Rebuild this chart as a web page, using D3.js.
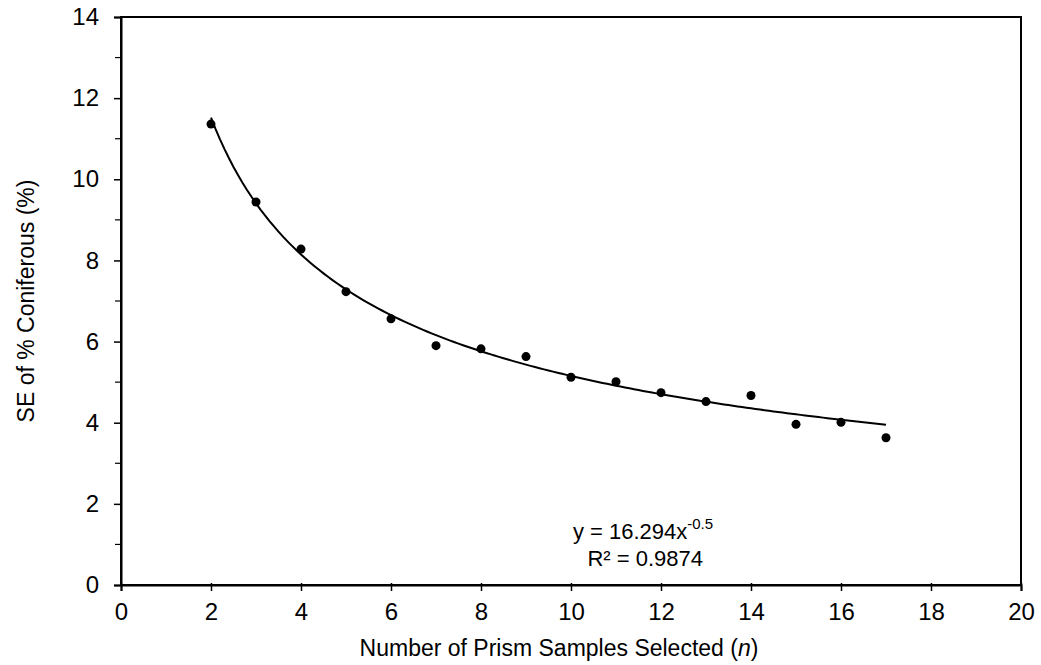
<!DOCTYPE html>
<html>
<head>
<meta charset="utf-8">
<script src="https://cdn.jsdelivr.net/npm/d3@7"></script>
<style>
  body { margin: 0; background: #fff; }
  svg { display: block; }
  text { font-family: "Liberation Sans", Arial, sans-serif; fill: #000; }
</style>
</head>
<body>
<div id="chart"></div>
<script>
// scatter of SE vs sample count, with the power trendline shown in the chart

const sampleN = [2, 3, 4, 5, 6, 7, 8, 9, 10, 11, 12, 13, 14, 15, 16, 17];
const seValues = [11.36, 9.44, 8.28, 7.23, 6.56, 5.90, 5.82, 5.63, 5.12, 5.01, 4.74, 4.52, 4.67, 3.96, 4.01, 3.63];
const xTicks = [0, 2, 4, 6, 8, 10, 12, 14, 16, 18, 20];
const yTicks = [0, 2, 4, 6, 8, 10, 12, 14];
const yMinorTicks = [1, 3, 5, 7, 9, 11, 13];
// trendline as printed on the chart: y = 16.294 x^-0.5
const trendA = 16.294;
const trendB = -0.5;
const trendLabel = ['y = 16.294x', '-0.5', 'R² = 0.9874'];

const width = 1041, height = 665;
const margin = {left: 121, right: 20, top: 17, bottom: 80};

const svg = d3.select('#chart').append('svg')
  .attr('width', width)
  .attr('height', height);

const x = d3.scaleLinear().domain([0, 20]).range([margin.left, width - margin.right]);
const y = d3.scaleLinear().domain([0, 14]).range([height - margin.bottom, margin.top]);

// frame
svg.append('rect')
  .attr('x', x(0)).attr('y', y(14))
  .attr('width', x(20) - x(0)).attr('height', y(0) - y(14))
  .attr('fill', 'none').attr('stroke', '#000').attr('stroke-width', 2);

// x axis
const xAxis = svg.append('g')
  .attr('transform', `translate(0,${y(0)})`)
  .call(d3.axisBottom(x).tickValues(xTicks).tickSize(6).tickPadding(12).tickFormat(d3.format('d')));
xAxis.select('.domain').attr('stroke-width', 2);
xAxis.selectAll('.tick line').attr('stroke-width', 1.5).attr('y1', -2);
xAxis.selectAll('.tick text').attr('font-size', 24);

// y axis
const yAxis = svg.append('g')
  .attr('transform', `translate(${x(0)},0)`)
  .call(d3.axisLeft(y).tickValues(yTicks).tickSize(7).tickPadding(15).tickFormat(d3.format('d')));
yAxis.select('.domain').attr('stroke-width', 2);
yAxis.selectAll('.tick line').attr('stroke-width', 1.5);
yAxis.selectAll('.tick text').attr('font-size', 24);

svg.append('g').selectAll('line')
  .data(yMinorTicks)
  .join('line')
  .attr('x1', x(0) - 6).attr('x2', x(0))
  .attr('y1', d => y(d)).attr('y2', d => y(d))
  .attr('stroke', '#000').attr('stroke-width', 1.2);

// trendline over the data range
const trendPts = d3.range(d3.min(sampleN), d3.max(sampleN) + 0.001, 0.1)
  .map(n => [n, trendA * Math.pow(n, trendB)]);
svg.append('path')
  .datum(trendPts)
  .attr('fill', 'none')
  .attr('stroke', '#000')
  .attr('stroke-width', 2)
  .attr('d', d3.line().x(d => x(d[0])).y(d => y(d[1])));

// points
svg.append('g').selectAll('circle')
  .data(sampleN.map((n, i) => [n, seValues[i]]))
  .join('circle')
  .attr('cx', d => x(d[0]))
  .attr('cy', d => y(d[1]))
  .attr('r', 4.5)
  .attr('fill', '#000');

// equation
const eq = svg.append('text')
  .attr('x', x(11.6)).attr('y', 539)
  .attr('text-anchor', 'middle')
  .attr('font-size', 22);
eq.append('tspan').text(trendLabel[0]);
eq.append('tspan').attr('dy', -10).attr('font-size', 15).text(trendLabel[1]);
svg.append('text')
  .attr('x', x(11.65)).attr('y', 566)
  .attr('text-anchor', 'middle')
  .attr('font-size', 22)
  .text(trendLabel[2]);

// axis titles
const xt = svg.append('text')
  .attr('x', 559).attr('y', 656)
  .attr('text-anchor', 'middle')
  .attr('font-size', 23);
xt.append('tspan').text('Number of Prism Samples Selected (');
xt.append('tspan').attr('font-style', 'italic').text('n');
xt.append('tspan').text(')');

svg.append('text')
  .attr('transform', `translate(34,${(y(0) + y(14)) / 2}) rotate(-90)`)
  .attr('text-anchor', 'middle')
  .attr('font-size', 23)
  .text('SE of % Coniferous (%)');
</script>
</body>
</html>
